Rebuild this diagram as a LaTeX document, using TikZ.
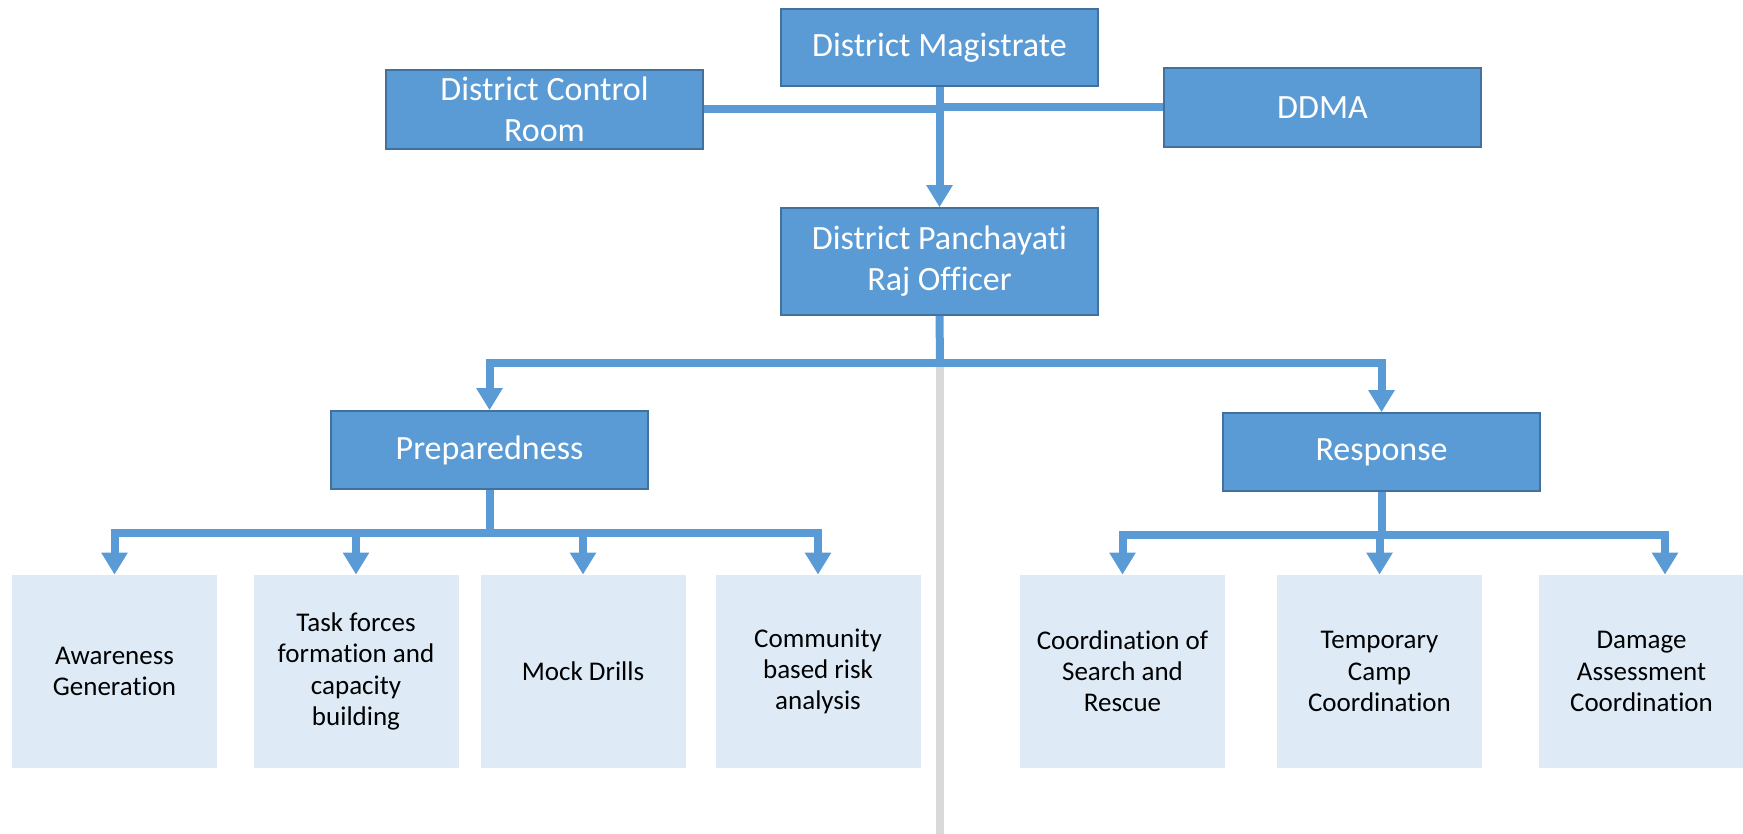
\documentclass[tikz,border=0pt]{standalone}
\usepackage{fontspec}
\setmainfont{Carlito}[Ligatures={NoCommon,NoRare,NoContextual}]
\usetikzlibrary{arrows.meta}
\definecolor{boxblue}{HTML}{5B9BD5}
\definecolor{boxedge}{HTML}{41719C}
\definecolor{leaffill}{HTML}{DEEBF7}
\definecolor{guide}{HTML}{D9D9D9}
\begin{document}
\begin{tikzpicture}[x=0.5pt,y=-0.5pt,
  headbox/.style={draw=boxedge, line width=0.8pt, fill=boxblue, text=white,
    font=\fontsize{17}{20.5}\selectfont, align=center, inner sep=0pt,
    minimum width=158.5pt},
  leafbox/.style={fill=leaffill, text=black,
    font=\fontsize{13.5}{15.6}\selectfont, align=center, inner sep=0pt,
    minimum width=102.5pt, minimum height=96.5pt},
  link/.style={draw=boxblue, line width=4pt},
  arrowlink/.style={link, -{Triangle[width=12.5pt,length=11pt]}},
  guideline/.style={draw=guide, line width=4pt}]
\useasboundingbox (0,0) rectangle (1743,834);

% top tier
\node[headbox, minimum height=38.5pt] (dm)   at (939.5,47.5)  {District Magistrate};
\node[headbox, minimum height=39.5pt] (dcr)  at (544.5,109.5) {District Control\\Room};
\node[headbox, minimum height=39.5pt] (ddma) at (1322.5,107.5) {DDMA};
\node[headbox, minimum height=53.5pt] (dpro) at (939.5,261.5) {District Panchayati\\Raj Officer};

% phases
\node[headbox, minimum height=39pt] (prep) at (489.5,450)  {Preparedness};
\node[headbox, minimum height=39pt] (resp) at (1381.5,452) {Response};

% preparedness tasks
\node[leafbox] (aw)    at (114.5,671.5) {Awareness\\Generation};
\node[leafbox] (task)  at (356,671.5)   {Task forces\\formation and\\capacity\\building};
\node[leafbox] (mock)  at (583,671.5)   {Mock Drills};
\node[leafbox] (comm)  at (818,671.5)   {Community\\based risk\\analysis};

% response tasks
\node[leafbox] (coord) at (1122.5,671.5) {Coordination of\\Search and\\Rescue};
\node[leafbox] (temp)  at (1379.5,671.5) {Temporary\\Camp\\Coordination};
\node[leafbox] (dmg)   at (1641.5,671.5) {Damage\\Assessment\\Coordination};

% junction points
\coordinate (hub)  at (940,363);
\coordinate (foot) at (940,834);
\coordinate (pj)   at (489.5,533);
\coordinate (rj)   at (1381.5,535);

% central divider
\draw[guideline] (hub) -- (foot);

% top connections
\draw[link] (dcr.east) -- (dcr.east -| dm.south);
\draw[link] (ddma.west) -- (ddma.west -| dm.south);
\draw[arrowlink] (dm.south) -- (dpro.north);

% to the phases
\draw[link] (dpro.south) -- (hub);
\draw[arrowlink] (hub) -| (prep.north);
\draw[arrowlink] (hub) -| (resp.north);

% preparedness branches
\draw[link] (prep.south) -- (pj);
\draw[arrowlink] (pj) -| (aw.north);
\draw[arrowlink] (pj) -| (task.north);
\draw[arrowlink] (pj) -| (mock.north);
\draw[arrowlink] (pj) -| (comm.north);

% response branches
\draw[link] (resp.south) -- (rj);
\draw[arrowlink] (rj) -| (coord.north);
\draw[arrowlink] (rj) -| (temp.north);
\draw[arrowlink] (rj) -| ([xshift=11.75pt]dmg.north);
\end{tikzpicture}
\end{document}
